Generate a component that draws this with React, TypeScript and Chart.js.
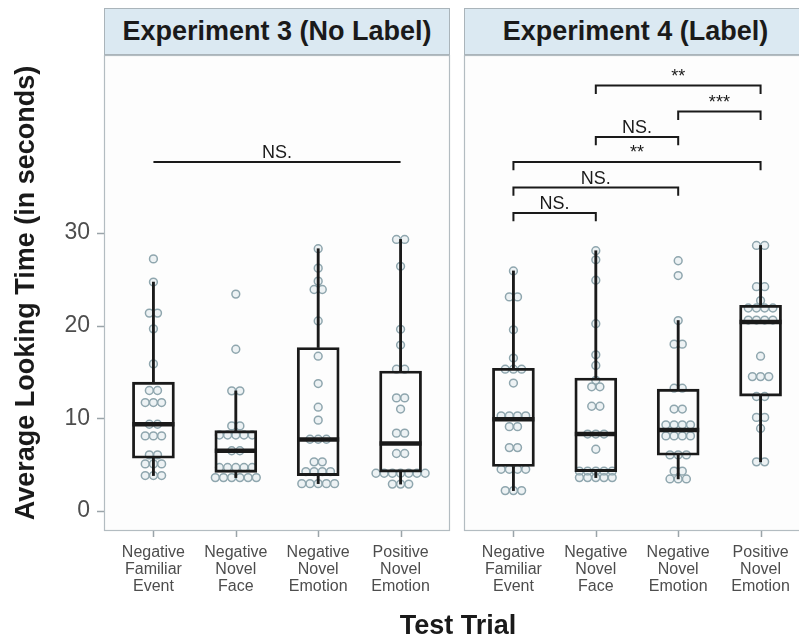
import React, { useEffect, useRef } from "react";
import { Chart, registerables } from "chart.js";

Chart.register(...registerables);

const FONT = "'Liberation Sans', Arial, Helvetica, sans-serif";

// ---------- labels ----------
const categories = [
  "Negative Familiar Event",
  "Negative Novel Face",
  "Negative Novel Emotion",
  "Positive Novel Emotion",
];
const tickLabels: string[][] = [
  ["Negative", "Familiar", "Event"],
  ["Negative", "Novel", "Face"],
  ["Negative", "Novel", "Emotion"],
  ["Positive", "Novel", "Emotion"],
];
const panelTitles = ["Experiment 3 (No Label)", "Experiment 4 (Label)"];
const yTickValues = [0, 10, 20, 30];
const yTitle = "Average Looking Time (in seconds)";
const xTitle = "Test Trial";

// ---------- Experiment 3 (No Label) ----------
const exp3NegFamiliarEvent = [27.2, 24.7, 21.35, 21.35, 19.65, 15.87, 13.0, 13.0, 11.7, 11.7, 11.7, 9.36, 9.36, 8.1, 8.1, 8.1, 6.05, 6.05, 5.08, 5.08, 5.08, 3.82, 3.82, 3.82];
const exp3NegNovelFace = [23.4, 17.45, 12.96, 12.96, 9.18, 9.18, 8.2, 8.2, 8.2, 8.2, 8.2, 6.5, 6.5, 4.7, 4.7, 4.7, 4.7, 4.7, 3.6, 3.6, 3.6, 3.6, 3.6, 3.6];
const exp3NegNovelEmotion = [28.3, 26.2, 24.8, 23.9, 23.9, 20.5, 16.7, 13.75, 11.2, 9.8, 7.74, 7.74, 7.74, 5.3, 5.3, 4.25, 4.25, 4.25, 4.25, 2.95, 2.95, 2.95, 2.95, 2.95];
const exp3PosNovelEmotion = [29.3, 29.3, 26.4, 19.6, 17.9, 15.3, 15.3, 12.2, 12.2, 11.0, 8.4, 8.4, 6.2, 6.2, 4.07, 4.07, 4.07, 4.07, 4.07, 4.07, 4.07, 2.9, 2.9, 2.9];
const exp3Min = [3.82, 3.6, 2.95, 2.9];
const exp3Q1 = [5.69, 4.17, 3.82, 4.2];
const exp3Median = [9.36, 6.5, 7.7, 7.27];
const exp3Q3 = [13.9, 8.67, 17.64, 15.1];
const exp3Max = [24.7, 12.96, 28.3, 29.3];
const exp3BracketFrom = [0];
const exp3BracketTo = [3];
const exp3BracketLevel = [37.66];
const exp3BracketLabel = ["NS."];
const exp3BracketTip = [0];

// ---------- Experiment 4 (Label) ----------
const exp4NegFamiliarEvent = [25.9, 23.1, 23.1, 19.55, 16.5, 15.3, 15.3, 15.3, 13.8, 10.26, 10.26, 10.26, 10.26, 9.1, 9.1, 6.84, 6.84, 4.5, 4.5, 4.5, 4.5, 2.2, 2.2, 2.2];
const exp4NegNovelFace = [28.08, 27.1, 24.9, 20.2, 16.85, 15.7, 14.1, 13.4, 13.4, 11.3, 11.3, 8.3, 8.3, 8.3, 6.66, 4.3, 4.3, 4.3, 4.3, 4.3, 3.6, 3.6, 3.6, 3.6, 3.6];
const exp4NegNovelEmotion = [27.0, 25.4, 20.55, 18.0, 18.0, 13.25, 13.25, 11.0, 11.0, 9.3, 9.3, 9.3, 9.3, 8.1, 8.1, 8.1, 8.1, 6.05, 6.05, 6.05, 4.3, 4.3, 3.46, 3.46, 3.46];
const exp4PosNovelEmotion = [28.65, 28.65, 24.2, 24.2, 22.7, 21.9, 21.9, 21.9, 21.9, 20.6, 20.6, 20.6, 20.6, 16.7, 14.5, 14.5, 14.5, 12.35, 12.35, 10.1, 10.1, 8.9, 5.3, 5.3];
const exp4Min = [2.2, 3.6, 3.46, 5.3];
const exp4Q1 = [4.8, 4.25, 6.02, 12.4];
const exp4Median = [9.9, 8.3, 8.75, 20.4];
const exp4Q3 = [15.4, 14.35, 13.15, 22.2];
const exp4Max = [25.9, 28.08, 20.55, 28.65];
const exp4BracketFrom = [0, 0, 0, 1, 2, 1];
const exp4BracketTo = [1, 2, 3, 2, 3, 3];
const exp4BracketLevel = [32.15, 34.9, 37.66, 40.35, 43.1, 45.9];
const exp4BracketLabel = ["NS.", "NS.", "**", "NS.", "***", "**"];
const exp4BracketTip = [0.9, 0.9, 0.9, 0.9, 0.9, 0.9];

// ---------- layout constants ----------
const Y_MIN = -2.16;
const Y_MAX = 49.2;
const X_MIN = -0.6;
const PANEL_W = 346;
const PX_PER_UNIT = PANEL_W / 4.2;
const DOT_STEP = 8.2 / PX_PER_UNIT;

type PanelData = {
  points: number[][];
  min: number[];
  q1: number[];
  med: number[];
  q3: number[];
  max: number[];
  bFrom: number[];
  bTo: number[];
  bLevel: number[];
  bLabel: string[];
  bTip: number[];
};

const exp3: PanelData = {
  points: [exp3NegFamiliarEvent, exp3NegNovelFace, exp3NegNovelEmotion, exp3PosNovelEmotion],
  min: exp3Min, q1: exp3Q1, med: exp3Median, q3: exp3Q3, max: exp3Max,
  bFrom: exp3BracketFrom, bTo: exp3BracketTo, bLevel: exp3BracketLevel, bLabel: exp3BracketLabel, bTip: exp3BracketTip,
};
const exp4: PanelData = {
  points: [exp4NegFamiliarEvent, exp4NegNovelFace, exp4NegNovelEmotion, exp4PosNovelEmotion],
  min: exp4Min, q1: exp4Q1, med: exp4Median, q3: exp4Q3, max: exp4Max,
  bFrom: exp4BracketFrom, bTo: exp4BracketTo, bLevel: exp4BracketLevel, bLabel: exp4BracketLabel, bTip: exp4BracketTip,
};

function dodge(points: number[][]) {
  const out: { x: number; y: number }[] = [];
  points.forEach((vals, i) => {
    const counts = new Map<number, number>();
    vals.forEach((v) => counts.set(v, (counts.get(v) || 0) + 1));
    const seen = new Map<number, number>();
    vals.forEach((v) => {
      const n = counts.get(v) as number;
      const k = seen.get(v) || 0;
      seen.set(v, k + 1);
      out.push({ x: i + (k - (n - 1) / 2) * DOT_STEP, y: v });
    });
  });
  return out;
}

const INK = "#1a1a1a";
const TICK_COLOR = "#9aa4a9";

function buildDatasets(d: PanelData): any[] {
  const ds: any[] = [];
  d.bLevel.forEach((lvl, i) => {
    const tip = d.bTip[i];
    const pts =
      tip > 0
        ? [
            { x: d.bFrom[i], y: lvl - tip },
            { x: d.bFrom[i], y: lvl },
            { x: d.bTo[i], y: lvl },
            { x: d.bTo[i], y: lvl - tip },
          ]
        : [
            { x: d.bFrom[i], y: lvl },
            { x: d.bTo[i], y: lvl },
          ];
    ds.push({
      type: "line",
      data: pts,
      borderColor: INK,
      borderWidth: 2,
      pointRadius: 0,
      fill: false,
      tension: 0,
    });
  });
  ds.push({
    type: "scatter",
    data: d.med.map((m, i) => ({ x: i, y: m })),
    pointStyle: "line",
    pointRadius: 21,
    borderColor: INK,
    borderWidth: 4.5,
  });
  ds.push({
    type: "bar",
    data: d.q1.map((q, i) => ({ x: i, y: [q, d.q3[i]] })),
    backgroundColor: "rgba(0,0,0,0)",
    borderColor: INK,
    borderWidth: 2.2,
    borderSkipped: false,
    barThickness: 42,
    grouped: false,
  });
  ds.push({
    type: "bar",
    data: d.q3.map((q, i) => ({ x: i, y: [q, d.max[i]] })),
    backgroundColor: INK,
    borderWidth: 0,
    barThickness: 2.2,
    grouped: false,
  });
  ds.push({
    type: "bar",
    data: d.q1.map((q, i) => ({ x: i, y: [d.min[i], q] })),
    backgroundColor: INK,
    borderWidth: 0,
    barThickness: 2.2,
    grouped: false,
  });
  ds.push({
    type: "scatter",
    data: dodge(d.points),
    pointStyle: "circle",
    pointRadius: 3.9,
    borderWidth: 1.5,
    borderColor: "#8fa6ae",
    backgroundColor: "rgba(205,220,225,0.35)",
  });
  return ds;
}

type PanelProps = {
  data: PanelData;
  width: number;
  left: number;
  padLeft: number;
  padRight: number;
  xMax: number;
  showY: boolean;
  openRight: boolean;
};

function Panel({ data, width, left, padLeft, padRight, xMax, showY, openRight }: PanelProps) {
  const ref = useRef<HTMLCanvasElement | null>(null);
  useEffect(() => {
    if (!ref.current) return;
    const panelPlugin = {
      id: "panelFrame",
      beforeDatasetsDraw(chart: any) {
        const { ctx, chartArea: a } = chart;
        ctx.save();
        ctx.fillStyle = "#fdfdfd";
        ctx.fillRect(a.left, a.top, a.right - a.left, a.bottom - a.top);
        ctx.strokeStyle = "#b3bcc1";
        ctx.lineWidth = 1.2;
        ctx.strokeRect(
          a.left + 0.5,
          a.top + 0.5,
          a.right - a.left - 1 + (openRight ? 20 : 0),
          a.bottom - a.top - 1
        );
        ctx.restore();
      },
      afterDatasetsDraw(chart: any) {
        const { ctx } = chart;
        const xs = chart.scales.x;
        const ys = chart.scales.y;
        ctx.save();
        ctx.fillStyle = INK;
        ctx.textAlign = "center";
        ctx.textBaseline = "alphabetic";
        ctx.font = `18px ${FONT}`;
        data.bLevel.forEach((lvl, i) => {
          const xm = (xs.getPixelForValue(data.bFrom[i]) + xs.getPixelForValue(data.bTo[i])) / 2;
          const y = ys.getPixelForValue(lvl) - 4;
          ctx.fillText(data.bLabel[i], xm, y);
        });
        ctx.restore();
      },
      afterDraw(chart: any) {
        const { ctx, chartArea: a } = chart;
        const xs = chart.scales.x;
        const ys = chart.scales.y;
        ctx.save();
        ctx.strokeStyle = TICK_COLOR;
        ctx.lineWidth = 1.5;
        ctx.beginPath();
        categories.forEach((_, i) => {
          const px = Math.round(xs.getPixelForValue(i)) + 0.5;
          ctx.moveTo(px, a.bottom);
          ctx.lineTo(px, a.bottom + 6);
        });
        if (showY) {
          yTickValues.forEach((v) => {
            const py = Math.round(ys.getPixelForValue(v)) + 0.5;
            ctx.moveTo(a.left - 7, py);
            ctx.lineTo(a.left, py);
          });
        }
        ctx.stroke();
        ctx.restore();
      },
    };
    const chart = new Chart(ref.current, {
      type: "bar",
      data: { datasets: buildDatasets(data) },
      plugins: [panelPlugin],
      options: {
        responsive: false,
        maintainAspectRatio: false,
        animation: false,
        devicePixelRatio: 1,
        layout: { autoPadding: false, padding: { left: padLeft, right: padRight, top: 55, bottom: 0 } },
        plugins: {
          legend: { display: false },
          tooltip: { enabled: false },
          title: { display: false },
        },
        scales: {
          x: {
            type: "linear",
            min: X_MIN,
            max: xMax,
            offset: false,
            afterBuildTicks: (s: any) => {
              s.ticks = categories.map((_, i) => ({ value: i }));
            },
            afterFit: (s: any) => {
              s.height = 107;
              s.paddingLeft = 0;
              s.paddingRight = 0;
            },
            ticks: {
              autoSkip: false,
              maxRotation: 0,
              minRotation: 0,
              padding: 5,
              color: "#4d4d4d",
              font: { family: FONT, size: 16, lineHeight: 1.07 },
              callback: (_v: any, i: number) => tickLabels[i],
            },
            grid: { display: false, offset: false },
            border: { display: false },
          },
          y: {
            type: "linear",
            display: showY,
            min: Y_MIN,
            max: Y_MAX,
            afterBuildTicks: (s: any) => {
              s.ticks = yTickValues.map((v) => ({ value: v }));
            },
            afterFit: (s: any) => {
              if (showY) s.width = 104;
              s.paddingTop = 0;
              s.paddingBottom = 0;
            },
            ticks: {
              padding: 6,
              color: "#4d4d4d",
              font: { family: FONT, size: 23 },
            },
            grid: { display: false, offset: false },
            border: { display: false },
            title: {
              display: true,
              text: yTitle,
              color: INK,
              font: { family: FONT, size: 27, weight: "bold" },
              padding: { top: 10, bottom: 0 },
            },
          },
        },
      } as any,
    });
    return () => chart.destroy();
  }, []);
  return (
    <canvas
      ref={ref}
      width={width}
      height={638}
      style={{ position: "absolute", left, top: 0, width, height: 638, display: "block" }}
    />
  );
}

const stripStyle: React.CSSProperties = {
  position: "absolute",
  top: 8,
  height: 47,
  boxSizing: "border-box",
  border: "1.2px solid #aab4ba",
  background: "#dbe9f2",
  display: "flex",
  alignItems: "center",
  justifyContent: "center",
  fontFamily: FONT,
  fontWeight: "bold",
  fontSize: 27,
  color: INK,
  whiteSpace: "nowrap",
};

export default function App() {
  const rightXMax = X_MIN + (799 - 464) / PX_PER_UNIT;
  return (
    <div
      style={{
        position: "absolute",
        left: 0,
        top: 0,
        width: 799,
        height: 638,
        overflow: "hidden",
        background: "#ffffff",
      }}
    >
      <Panel data={exp3} width={456} left={0} padLeft={0} padRight={6} xMax={3.6} showY={true} openRight={false} />
      <Panel data={exp4} width={343} left={456} padLeft={8} padRight={0} xMax={rightXMax} showY={false} openRight={true} />
      <div style={{ ...stripStyle, left: 104, width: 346 }}>{panelTitles[0]}</div>
      <div style={{ ...stripStyle, left: 464, width: 349, paddingRight: 6 }}>{panelTitles[1]}</div>
      <div
        style={{
          position: "absolute",
          left: 358,
          width: 200,
          top: 610,
          lineHeight: "30px",
          textAlign: "center",
          fontFamily: FONT,
          fontWeight: "bold",
          fontSize: 27,
          color: INK,
        }}
      >
        {xTitle}
      </div>
    </div>
  );
}
